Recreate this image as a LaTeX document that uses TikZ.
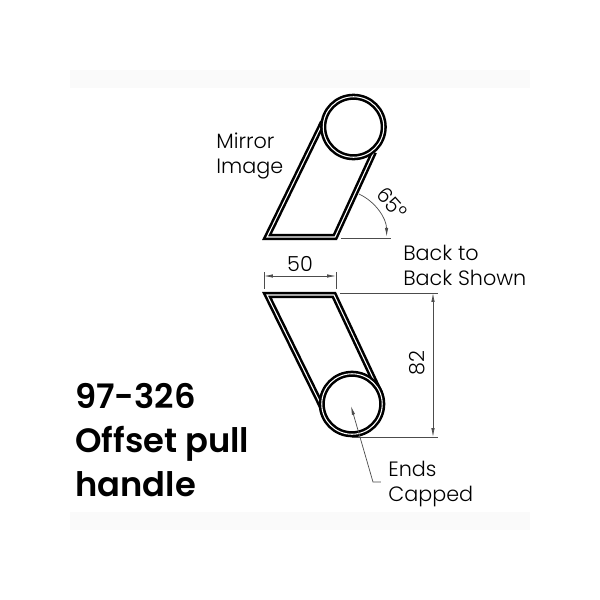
\documentclass[tikz,border=0pt]{standalone}
\usepackage{fontspec}
\setmainfont{Poppins Light}
\newfontfamily\titlefont{Poppins SemiBold}
\usetikzlibrary{arrows.meta}
\definecolor{bandgray}{HTML}{FAFAFA}
\tikzset{
    PX/.style={x=0.02cm,y=-0.02cm},
    TU/.style={draw=black,line width=1.45pt,double=white,double distance=0.6pt,miter limit=10},
    EN/.style={TU,circle,fill=white,minimum size=1.21cm,inner sep=0pt,outer sep=0pt},
    DM/.style={draw=black!70,line width=0.4pt},
    AR/.style={DM,{Latex[length=5pt,width=1.9pt]}-{Latex[length=5pt,width=1.9pt]}},
    NT/.style={anchor=west,align=left,inner sep=0pt,font=\fontsize{11.8}{14.2}\selectfont},
    TT/.style={anchor=west,align=left,inner sep=0pt,font=\fontsize{19.2}{25}\titlefont}}
\begin{document}
\begin{tikzpicture}[PX]
        \useasboundingbox (0,0) rectangle (600,600);
        \fill[bandgray] (70,70) rectangle (530,530);
        \fill[white] (70,88) rectangle (530,512);
        % upper handle
        \coordinate (a1) at (323,122);
        \coordinate (a2) at (267,237);
        \coordinate (a3) at (335,237);
        \coordinate (a4) at (374,152);
        \coordinate (ac) at (353.5,127);
        \draw[TU] (a1) -- (a2) -- (a3) -- (a4);
        \node[EN] (topend) at (ac) {};
        % lower handle
        \coordinate (b1) at (323,409);
        \coordinate (b2) at (267,295);
        \coordinate (b3) at (334,295);
        \coordinate (b4) at (380,393);
        \coordinate (bc) at (352,404);
        \draw[TU] (b1) -- (b2) -- (b3) -- (b4);
        \node[EN] (botend) at (bc) {};
        % 65 degree mark
        \coordinate (c1) at (341,238.5);
        \coordinate (c2) at (391,238.5);
        \draw[DM] (c1) -- (c2);
        \draw[DM,-{Latex[length=5pt,width=1.9pt]}] (359,194) arc[start angle=-65,end angle=-1,radius=48];
        \node[rotate=-48,inner sep=0pt,font=\fontsize{11.8}{14}\selectfont] (ang) at (392,203) {65°};
        % width
        \coordinate (d1) at (264,272);
        \coordinate (d2) at (264,289);
        \coordinate (d3) at (336,272);
        \coordinate (d4) at (336,289);
        \coordinate (d5) at (264,276);
        \coordinate (d6) at (336,276);
        \draw[DM] (d1) -- (d2);
        \draw[DM] (d3) -- (d4);
        \draw[AR] (d5) -- (d6);
        \node[inner sep=0pt,font=\fontsize{11.8}{14}\selectfont] (wd) at (300,264) {50};
        % height
        \coordinate (e1) at (340,293);
        \coordinate (e2) at (438,293);
        \coordinate (e3) at (352,437);
        \coordinate (e4) at (438,437);
        \coordinate (e5) at (433,293);
        \coordinate (e6) at (433,437);
        \draw[DM] (e1) -- (e2);
        \draw[DM] (e3) -- (e4);
        \draw[AR] (e5) -- (e6);
        \node[rotate=90,inner sep=0pt,font=\fontsize{11.8}{14}\selectfont] (ht) at (417,363) {82};
        % capped note
        \coordinate (f1) at (381,482);
        \coordinate (f2) at (373,482);
        \coordinate (f3) at (351,406);
        \draw[DM,-{Latex[length=5pt,width=1.9pt]}] (f1) -- (f2) -- (f3);
        \node[NT] (capped) at (388,484) {Ends\\Capped};
        \node[NT] (back) at (403,265) {Back to\\Back Shown};
        \node[NT] (mirror) at (216,156) {Mirror\\Image};
        \node[TT] (title) at (75,440) {97-326\\Offset pull\\handle};
    \end{tikzpicture}
\end{document}
